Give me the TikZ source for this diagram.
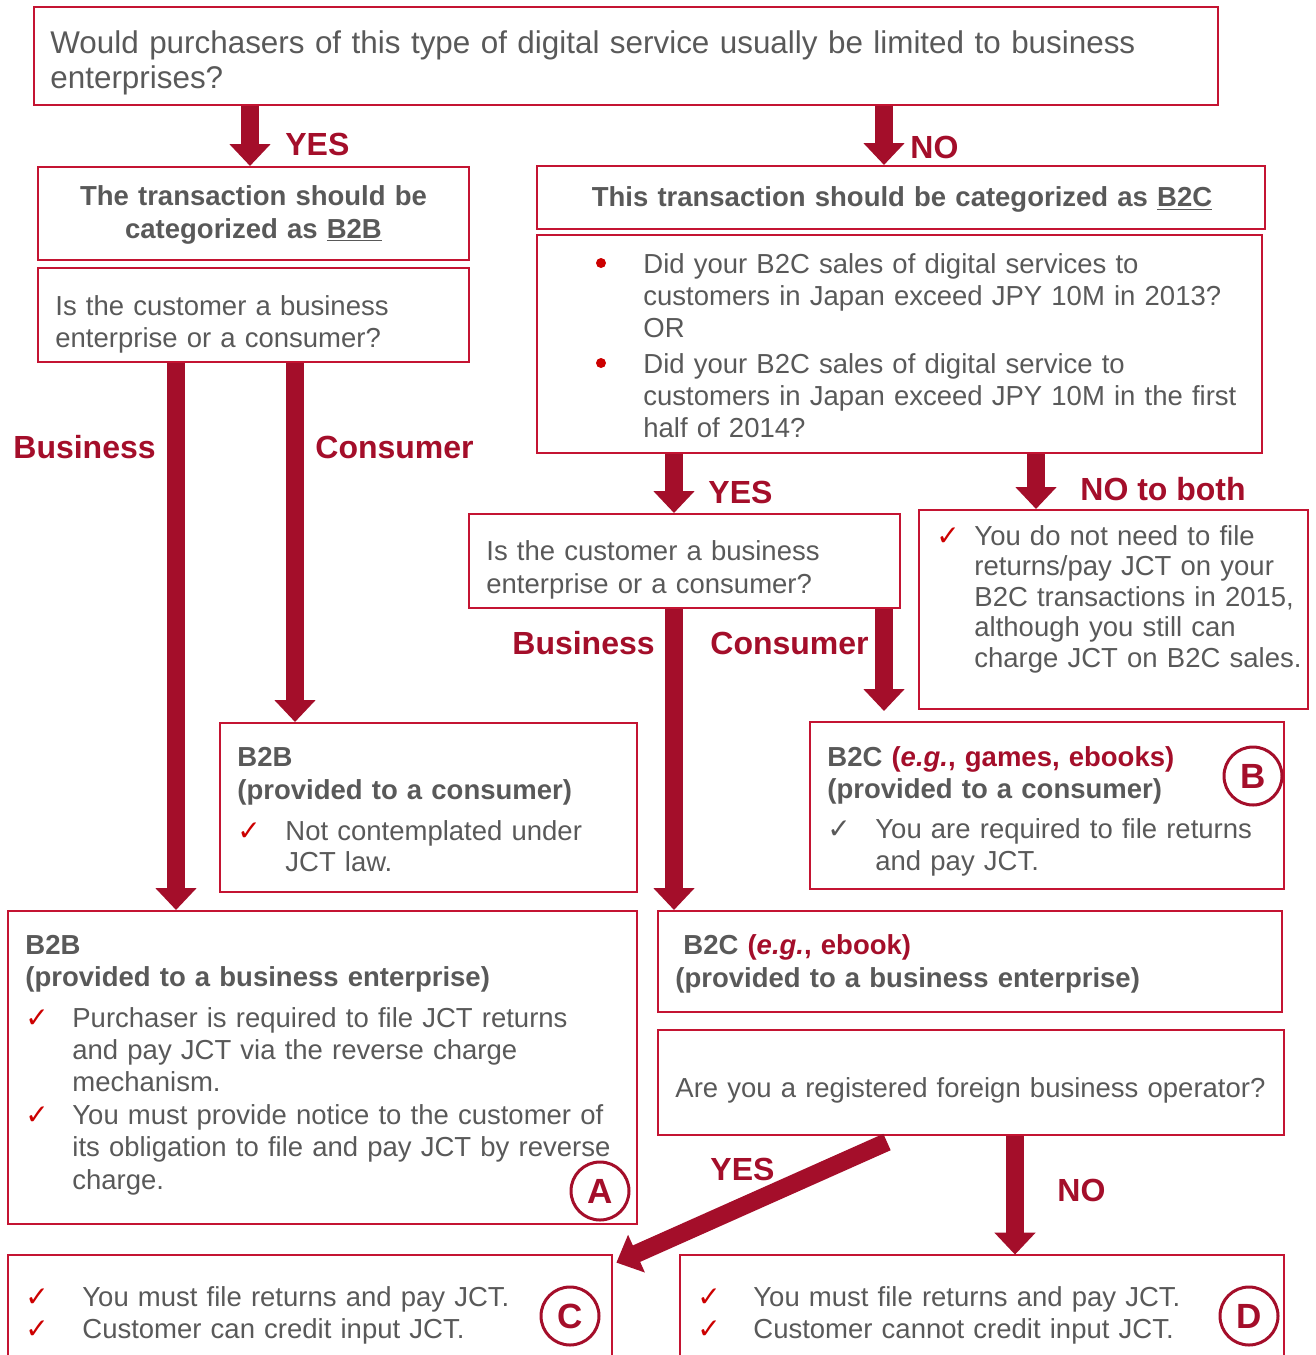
\documentclass[tikz,border=0pt]{standalone}
\usepackage{fontspec}
\setmainfont{Liberation Sans}
\newfontfamily\chkfont{DejaVu Sans}
\usetikzlibrary{arrows.meta}
\usetikzlibrary{calc}
\usetikzlibrary{fit,positioning}
\definecolor{boxred}{RGB}{196,20,50}
\definecolor{flowred}{RGB}{164,14,42}
\definecolor{tickred}{RGB}{204,0,0}
\definecolor{txtgray}{RGB}{89,89,89}

\begin{document}
\begin{tikzpicture}[x=0.5pt,y=-0.5pt,
  box/.style={draw=boxred,line width=1pt,inner sep=0pt},
  txt/.style={anchor=base west,inner sep=0pt,text=txtgray,text width=330pt,align=left,font=\fontsize{13.75}{16}\selectfont},
  head/.style={txt,font=\fontsize{13.75}{16.5}\selectfont\bfseries},
  lbl/.style={anchor=base west,inner sep=0pt,text=flowred,font=\fontsize{16}{19}\selectfont\bfseries},
  tick/.style={anchor=base west,inner sep=0pt,text=tickred,font=\chkfont\fontsize{14}{16}\selectfont},
  dot/.style={circle,fill=tickred,inner sep=0pt,minimum size=5pt},
  flow/.style={draw=flowred,line width=9pt,-{Triangle[width=20pt,length=11pt]}},
  case/.style={circle,draw=flowred,line width=1.5pt,minimum size=29pt,inner sep=0pt,text=flowred,font=\fontsize{17.5}{17.5}\selectfont\bfseries}]
\useasboundingbox (0,0) rectangle (1316,1355);

\node[box,fit={(34,7) (1218,105)}] (top) {};
\node[box,fit={(38,167) (469,260)}] (catB2B) {};
\node[box,fit={(537,166) (1265,229)}] (catB2C) {};
\node[box,fit={(38,268) (469,362)}] (askL) {};
\node[box,fit={(537,235) (1262,453)}] (askJP) {};
\node[box,fit={(469,514) (900,608)}] (askM) {};
\node[box,fit={(919,510) (1308,709)}] (noB2C) {};
\node[box,fit={(220,723) (637,892)}] (b2bCons) {};
\node[box,fit={(810,722) (1284,889)}] (b2cCons) {};
\node[box,fit={(8,911) (637,1224)}] (b2bBus) {};
\node[box,fit={(658,911) (1282,1012)}] (b2cBus) {};
\node[box,fit={(658,1030) (1284,1135)}] (askReg) {};
\node[inner sep=0pt,fit={(8,1255) (612,1355)}] (resC) {};
\node[inner sep=0pt,fit={(680,1255) (1284,1355)}] (resD) {};
\draw[boxred,line width=1pt] (resC.south west) |- (resC.north east) -- (resC.south east);
\draw[boxred,line width=1pt] (resD.south west) |- (resD.north east) -- (resD.south east);

\node[txt,text width=570pt,font=\fontsize{15.7}{17.5}\selectfont] (topT) at (50,53) {Would purchasers of this type of digital service usually be limited to business\\enterprises?};
\node[head,anchor=base,text width=215pt,align=center] (catB2BT) at (253.5,205) {The transaction should be\\categorized as \underline{B2B}};
\node[head,anchor=base,text width=360pt,align=center] (catB2CT) at (902,206) {This transaction should be categorized as \underline{B2C}};
\node[txt] (askLT) at (55,315) {Is the customer a business\\enterprise or a consumer?};
\node[dot] (dot1) at (601,263) {};
\node[dot] (dot2) at (601,363) {};
\node[txt] (askJP1) at (643,273) {Did your B2C sales of digital services to\\customers in Japan exceed JPY 10M in 2013?\\OR};
\node[txt] (askJP2) at (643,373) {Did your B2C sales of digital service to\\customers in Japan exceed JPY 10M in the first\\half of 2014?};
\node[txt,font=\fontsize{13.75}{16.5}\selectfont] (askMT) at (486,560) {Is the customer a business\\enterprise or a consumer?};
\node[tick] (tickN) at (936,545) {✓};
\node[txt,font=\fontsize{13.75}{15.3}\selectfont] (noB2CT) at (974,545) {You do not need to file\\returns/pay JCT on your\\B2C transactions in 2015,\\although you still can\\charge JCT on B2C sales.};

\node[head] (b2bConsH) at (237,766) {B2B\\(provided to a consumer)};
\node[tick] (tickL) at (237,840) {✓};
\node[txt,font=\fontsize{13.75}{15.5}\selectfont] (b2bConsT) at (285,840) {Not contemplated under\\JCT law.};

\node[head,font=\fontsize{13.75}{16}\selectfont\bfseries] (b2cConsH) at (827,766) {B2C {\color{flowred}(\textit{e.g.}, games, ebooks)}\\(provided to a consumer)};
\node[tick,text=txtgray] (tickB) at (827,838) {✓};
\node[txt] (b2cConsT) at (875,838) {You are required to file returns\\and pay JCT.};
\node[case] (caseB) at (1253,776) {B};

\node[head,font=\fontsize{13.75}{16}\selectfont\bfseries] (b2bBusH) at (25,954) {B2B\\(provided to a business enterprise)};
\node[tick] (tickA1) at (25,1027) {✓};
\node[tick] (tickA2) at (25,1124) {✓};
\node[txt] (b2bBus1) at (72,1027) {Purchaser is required to file JCT returns\\and pay JCT via the reverse charge\\mechanism.};
\node[txt,font=\fontsize{13.75}{16.3}\selectfont] (b2bBus2) at (72,1124) {You must provide notice to the customer of\\its obligation to file and pay JCT by reverse\\charge.};
\node[case] (caseA) at (600,1191) {A};

\node[head] (b2cBusH) at (683,954) {B2C {\color{flowred}(\textit{e.g.}, ebook)}};
\node[head] (b2cBusS) at (675,987) {(provided to a business enterprise)};
\node[txt] (askRegT) at (675,1097) {Are you a registered foreign business operator?};

\node[tick] (tickC1) at (25,1306) {✓};
\node[tick] (tickC2) at (25,1338) {✓};
\node[txt] (resCT) at (82,1306) {You must file returns and pay JCT.\\Customer can credit input JCT.};
\node[case] (caseC) at (570,1316) {C};
\node[tick] (tickD1) at (697,1306) {✓};
\node[tick] (tickD2) at (697,1338) {✓};
\node[txt] (resDT) at (753,1306) {You must file returns and pay JCT.\\Customer cannot credit input JCT.};
\node[case] (caseD) at (1249,1316) {D};

\coordinate (xYes) at (250,0);
\coordinate (xNo) at (884,0);
\coordinate (xBusL) at (176,0);
\coordinate (xConL) at (295,0);
\coordinate (xYesM) at (674,0);
\coordinate (xNoM) at (1036,0);
\coordinate (xConM) at (884,0);
\coordinate (xYesR) at (887,0);
\coordinate (xNoR) at (1015,0);

\draw[flow] (xYes |- top.south) -- (xYes |- catB2B.north);
\draw[flow] (xNo |- top.south) -- (xNo |- catB2C.north);
\draw[flow] (xBusL |- askL.south) -- (xBusL |- b2bBus.north);
\draw[flow] (xConL |- askL.south) -- (xConL |- b2bCons.north);
\draw[flow] (xYesM |- askJP.south) -- (xYesM |- askM.north);
\draw[flow] (xNoM |- askJP.south) -- (xNoM |- noB2C.north);
\draw[flow] (xYesM |- askM.south) -- (xYesM |- b2cBus.north);
\draw[flow,shorten >=5pt] (xConM |- askM.south) -- (xConM |- b2cCons.north);
\draw[flow] ($(xYesR |- askReg.south)+(0,6)$) -- ($(resC.north east)+(4,8)$);
\draw[flow] (xNoR |- askReg.south) -- (xNoR |- resD.north);

\node[lbl] (yesT) at (285,155) {YES};
\node[lbl] (noT) at (910,158) {NO};
\node[lbl] (busL) at (13,458) {Business};
\node[lbl] (conL) at (315,458) {Consumer};
\node[lbl] (yesM) at (708,503) {YES};
\node[lbl] (noBoth) at (1080,500) {NO to both};
\node[lbl] (busM) at (512,654) {Business};
\node[lbl] (conM) at (710,654) {Consumer};
\node[lbl] (yesR) at (710,1180) {YES};
\node[lbl] (noR) at (1057,1201) {NO};

\end{tikzpicture}
\end{document}
